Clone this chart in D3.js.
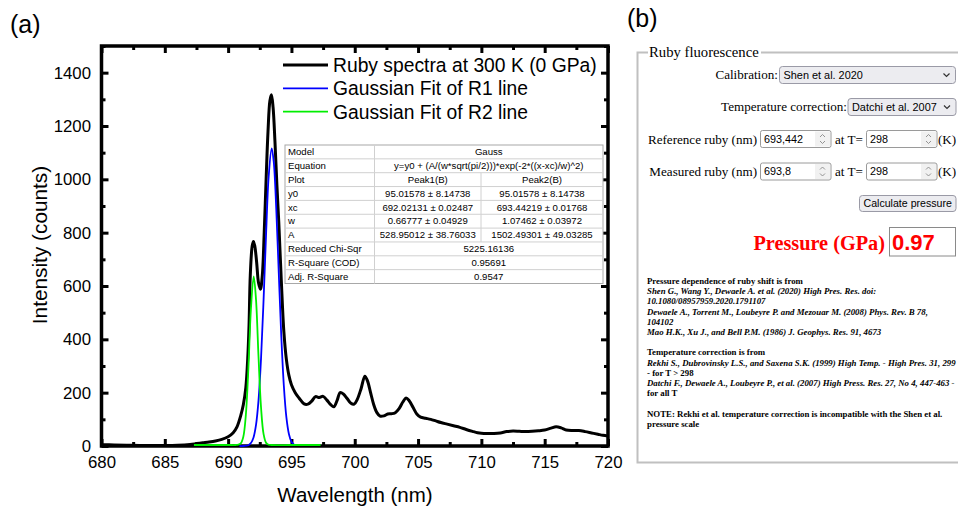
<!DOCTYPE html>
<html><head><meta charset="utf-8">
<script src="https://cdn.jsdelivr.net/npm/d3@7"></script>
<style>body{margin:0;background:#fff}svg{display:block}</style>
</head><body>
<svg id="c" width="958" height="508"></svg>
<script>
// ---------- DATA ----------
const spectrumWavelength = [680,681,682,683,684,685,686,687,687.5,688,688.5,689,689.5,690,690.4,690.7,691.0,691.2,691.4,691.55,691.65,691.75,691.9,692.0,692.1,692.25,692.4,692.55,692.7,692.85,693.0,693.15,693.3,693.42,693.55,693.7,693.85,694.0,694.2,694.4,694.6,694.8,695.0,695.3,695.6,696.0,696.3,696.6,696.9,697.2,697.5,697.8,698.1,698.35,698.6,698.85,699.1,699.4,699.7,699.95,700.2,700.5,700.8,701.0,701.25,701.5,701.75,702.0,702.3,702.6,702.9,703.2,703.5,703.8,704.05,704.3,704.6,704.9,705.2,705.6,706.0,706.4,706.8,707.3,707.8,708.3,708.8,709.3,709.7,710.0,710.5,711.0,711.5,712.0,712.5,713.0,713.5,714.0,714.5,715.0,715.5,715.9,716.3,716.7,717.2,717.7,718.2,718.7,719.2,719.6,720];
const spectrumIntensity = [5,4,3,2,2,2,3,6,9,12,15,19,25,35,50,72,115,155,220,330,450,640,750,767,752,690,612,588,640,800,1000,1180,1295,1317,1270,1140,980,840,620,430,325,265,230,200,180,158,157,168,185,182,186,172,155,147,170,200,195,178,160,157,175,215,262,245,200,155,125,112,113,120,121,125,140,165,180,170,145,120,108,104,100,94,88,82,76,70,62,55,50,48,47,47,49,54,56,55,54,55,57,60,67,72,68,60,58,58,54,49,44,40,37];

const r1Wavelength = [690.9,691.2,691.4,691.6,691.8,692.0,692.2,692.4,692.6,692.8,693.0,693.2,693.44,693.6,693.8,694.0,694.2,694.4,694.6,694.8,695.0,695.2,695.3];
const r1Intensity  = [0,0,1,3,11,31,78,171,329,549,798,1009,1116,1067,891,648,410,226,108,45,16,5,2];

const r2Wavelength = [687.3,688.5,690.0,690.6,690.8,691.0,691.2,691.4,691.6,691.8,692.02,692.2,692.4,692.6,692.8,693.0,693.2,693.4,695.0,697.3];
const r2Intensity  = [0,0,0,0,1,6,31,113,287,509,632,547,331,140,41,8,1,0,0,0];

const xTicks = [680,685,690,695,700,705,710,715,720];
const xMinor = [682.5,687.5,692.5,697.5,702.5,707.5,712.5,717.5];
const yTicks = [0,200,400,600,800,1000,1200,1400];
const yMinor = [100,300,500,700,900,1100,1300,1500];

const legendLabels = ["Ruby spectra at 300 K (0 GPa)","Gaussian Fit of R1 line","Gaussian Fit of R2 line"];
const legendColors = ["#000000","#0000ff","#00ee00"];

const tableRows = [
  ["Model","Gauss"],
  ["Equation","y=y0 + (A/(w*sqrt(pi/2)))*exp(-2*((x-xc)/w)^2)"],
  ["Plot","Peak1(B)","Peak2(B)"],
  ["y0","95.01578 ± 8.14738","95.01578 ± 8.14738"],
  ["xc","692.02131 ± 0.02487","693.44219 ± 0.01768"],
  ["w","0.66777 ± 0.04929","1.07462 ± 0.03972"],
  ["A","528.95012 ± 38.76033","1502.49301 ± 49.03285"],
  ["Reduced Chi-Sqr","5225.16136"],
  ["R-Square (COD)","0.95691"],
  ["Adj. R-Square","0.9547"]
];

const noteLines = [
  [["Pressure dependence of ruby shift is from",false]],
  [["Shen G., Wang Y., Dewaele A. et al. (2020) High Pres. Res. doi:",true]],
  [["10.1080/08957959.2020.1791107",true]],
  [["Dewaele A., Torrent M., Loubeyre P. and Mezouar M. (2008) Phys. Rev. B 78,",true]],
  [["104102",true]],
  [["Mao H.K., Xu J., and Bell P.M. (1986) J. Geophys. Res. 91, 4673",true]],
  null,
  [["Temperature correction is from",false]],
  [["Rekhi S., Dubrovinsky L.S., and Saxena S.K. (1999) High Temp. - High Pres. 31, 299",true]],
  [["- for T > 298",false]],
  [["Datchi F., Dewaele A., Loubeyre P., et al. (2007) High Press. Res. 27, No 4, 447-463 -",true]],
  [["for all T",false]],
  null,
  [["NOTE: Rekhi et al. temperature correction is incompatible with the Shen et al.",false]],
  [["pressure scale",false]]
];

// ---------- CHART (a) ----------
const svg = d3.select("#c");
const SANS = "'Liberation Sans', Arial, sans-serif";
const SERIF = "'Liberation Serif', 'Times New Roman', serif";
const UI = "'Liberation Sans', Arial, sans-serif";

const L = 101.5, R = 608, T = 46, B = 446;
const x = d3.scaleLinear().domain([680,720]).range([L,R]);
const y = d3.scaleLinear().domain([0,1500]).range([B,T]);

svg.append("text").attr("x",10).attr("y",33).attr("font-family",SANS).attr("font-size",25).text("(a)");
svg.append("text").attr("x",627).attr("y",27).attr("font-family",SANS).attr("font-size",25).text("(b)");

function styleAxis(sel){
  sel.select(".domain").remove();
  sel.selectAll(".tick line").attr("stroke","#000").attr("stroke-width",3);
  sel.selectAll(".tick text").attr("font-family",SANS).attr("font-size",16.8).attr("fill","#000");
}
// bottom
svg.append("g").attr("transform",`translate(0,${B})`)
  .call(d3.axisBottom(x).tickValues(xTicks).tickSizeInner(-7).tickSizeOuter(0).tickPadding(10).tickFormat(d3.format("d"))).call(styleAxis);
svg.append("g").attr("transform",`translate(0,${B})`)
  .call(d3.axisBottom(x).tickValues(xMinor).tickSizeInner(-4).tickSizeOuter(0).tickFormat("")).call(styleAxis);
// top
svg.append("g").attr("transform",`translate(0,${T})`)
  .call(d3.axisTop(x).tickValues(xTicks).tickSizeInner(-7).tickSizeOuter(0).tickFormat("")).call(styleAxis);
svg.append("g").attr("transform",`translate(0,${T})`)
  .call(d3.axisTop(x).tickValues(xMinor).tickSizeInner(-4).tickSizeOuter(0).tickFormat("")).call(styleAxis);
// left
svg.append("g").attr("transform",`translate(${L},0)`)
  .call(d3.axisLeft(y).tickValues(yTicks).tickSizeInner(-7).tickSizeOuter(0).tickPadding(10.5).tickFormat(d3.format("d"))).call(styleAxis);
svg.append("g").attr("transform",`translate(${L},0)`)
  .call(d3.axisLeft(y).tickValues(yMinor).tickSizeInner(-4).tickSizeOuter(0).tickFormat("")).call(styleAxis);
// right
svg.append("g").attr("transform",`translate(${R},0)`)
  .call(d3.axisRight(y).tickValues(yTicks).tickSizeInner(-7).tickSizeOuter(0).tickFormat("")).call(styleAxis);
svg.append("g").attr("transform",`translate(${R},0)`)
  .call(d3.axisRight(y).tickValues(yMinor).tickSizeInner(-4).tickSizeOuter(0).tickFormat("")).call(styleAxis);

svg.append("rect").attr("x",L).attr("y",T).attr("width",R-L).attr("height",B-T)
  .attr("fill","none").attr("stroke","#000").attr("stroke-width",3.5);

const line = d3.line().x(d=>x(d[0])).y(d=>y(d[1])).curve(d3.curveCatmullRom.alpha(0.5));
const g = svg.append("g");
g.append("path").datum(d3.zip(spectrumWavelength,spectrumIntensity)).attr("d",line)
  .attr("fill","none").attr("stroke","#000").attr("stroke-width",3).attr("stroke-linejoin","round");
g.append("path").datum(d3.zip(r1Wavelength,r1Intensity)).attr("d",line)
  .attr("fill","none").attr("stroke",legendColors[1]).attr("stroke-width",1.8);
g.append("path").datum(d3.zip(r2Wavelength,r2Intensity)).attr("d",line)
  .attr("fill","none").attr("stroke",legendColors[2]).attr("stroke-width",1.8)
  .attr("transform","translate(0,-1)");

svg.append("text").attr("x",355).attr("y",502).attr("text-anchor","middle")
  .attr("font-family",SANS).attr("font-size",20.5).text("Wavelength (nm)");
svg.append("text").attr("transform","translate(47,245) rotate(-90)").attr("text-anchor","middle")
  .attr("font-family",SANS).attr("font-size",20.8).text("Intensity (counts)");

// legend
const lg = svg.append("g");
legendLabels.forEach((lab,i)=>{
  const ly = 65 + i*23.3;
  lg.append("line").attr("x1",283).attr("x2",328).attr("y1",ly).attr("y2",ly)
    .attr("stroke",legendColors[i]).attr("stroke-width",i===0?3:1.8);
  lg.append("text").attr("x",333).attr("y",ly).attr("dy","0.36em")
    .attr("font-family",SANS).attr("font-size",19.3).text(lab);
});

// table
const cols = [285,374.5,481,603];
const tTop = 145, rowH = 13.85;
const tb = svg.append("g").attr("font-family",SANS).attr("font-size",9.6);
tb.append("rect").attr("x",cols[0]).attr("y",tTop).attr("width",cols[3]-cols[0]).attr("height",rowH*tableRows.length)
  .attr("fill","#fff").attr("stroke","#a8a8a8").attr("stroke-width",1);
tableRows.forEach((r,i)=>{
  const ty = tTop + i*rowH;
  if(i>0) tb.append("line").attr("x1",cols[0]).attr("x2",cols[3]).attr("y1",ty).attr("y2",ty).attr("stroke","#d0d0d0");
  tb.append("line").attr("x1",cols[1]).attr("x2",cols[1]).attr("y1",ty).attr("y2",ty+rowH).attr("stroke","#d0d0d0");
  tb.append("text").attr("x",cols[0]+3).attr("y",ty+10.2).text(r[0]);
  if(r.length===2){
    tb.append("text").attr("x",(cols[1]+cols[3])/2).attr("y",ty+10.2).attr("text-anchor","middle").text(r[1]);
  } else {
    tb.append("line").attr("x1",cols[2]).attr("x2",cols[2]).attr("y1",ty).attr("y2",ty+rowH).attr("stroke","#d0d0d0");
    tb.append("text").attr("x",(cols[1]+cols[2])/2).attr("y",ty+10.2).attr("text-anchor","middle").text(r[1]);
    tb.append("text").attr("x",(cols[2]+cols[3])/2).attr("y",ty+10.2).attr("text-anchor","middle").text(r[2]);
  }
});

// ---------- PANEL (b) ----------
const pb = svg.append("g");
const fsColor = "#c0c0c0";
pb.append("path").attr("d","M648,52.5 H637.5 V462.5 H958 M761,52.5 H958")
  .attr("fill","none").attr("stroke",fsColor).attr("stroke-width",2);
pb.append("text").attr("x",649).attr("y",57).attr("font-family",SERIF).attr("font-size",14.7).text("Ruby fluorescence");

const LF = 13.1;
function label(txt,xr,yb){
  pb.append("text").attr("x",xr).attr("y",yb).attr("text-anchor","end").attr("font-family",SERIF).attr("font-size",LF).text(txt);
}
function chevronDown(cx,cy,s){
  pb.append("path").attr("d",`M${cx-s},${cy-s/2} L${cx},${cy+s/2} L${cx+s},${cy-s/2}`)
    .attr("fill","none").attr("stroke","#333").attr("stroke-width",1.2);
}
function select(x0,y0,w,h,txt){
  pb.append("rect").attr("x",x0).attr("y",y0).attr("width",w).attr("height",h).attr("rx",3)
    .attr("fill","#ececf0").attr("stroke","#9a9aa6").attr("stroke-width",1);
  pb.append("text").attr("x",x0+4).attr("y",y0+h/2).attr("dy","0.36em").attr("font-family",UI).attr("font-size",10.9).text(txt);
  chevronDown(x0+w-9,y0+h/2,3);
}
function input(x0,y0,w,h,txt){
  pb.append("rect").attr("x",x0).attr("y",y0).attr("width",w).attr("height",h).attr("rx",2)
    .attr("fill","#fff").attr("stroke","#9a9a9a").attr("stroke-width",1);
  pb.append("rect").attr("x",x0+w-16).attr("y",y0+1).attr("width",15).attr("height",h-2)
    .attr("fill","#f1f1f1");
  const cx = x0+w-8.5, cy=y0+h/2;
  pb.append("path").attr("d",`M${cx-2.5},${cy-2} L${cx},${cy-4.5} L${cx+2.5},${cy-2} M${cx-2.5},${cy+2} L${cx},${cy+4.5} L${cx+2.5},${cy+2}`)
    .attr("fill","none").attr("stroke","#888").attr("stroke-width",0.9);
  pb.append("text").attr("x",x0+3.5).attr("y",y0+h/2).attr("dy","0.36em").attr("font-family",UI).attr("font-size",10.8).text(txt);
}
label("Calibration:",778,78.5);
select(779.5,66.5,176,17,"Shen et al. 2020");
label("Temperature correction:",847,111);
select(848,98.5,108,17,"Datchi et al. 2007");

label("Reference ruby (nm)",757,143.5);
input(760.5,130.5,70.5,17,"693,442");
pb.append("text").attr("x",835).attr("y",143.5).attr("font-family",SERIF).attr("font-size",LF).text("at T=");
input(866.5,130.5,70.5,17,"298");
pb.append("text").attr("x",938).attr("y",143.5).attr("font-family",SERIF).attr("font-size",LF).text("(K)");

label("Measured ruby (nm)",757,175.5);
input(760.5,163,70.5,17,"693,8");
pb.append("text").attr("x",835).attr("y",175.5).attr("font-family",SERIF).attr("font-size",LF).text("at T=");
input(866.5,163,70.5,17,"298");
pb.append("text").attr("x",938).attr("y",175.5).attr("font-family",SERIF).attr("font-size",LF).text("(K)");

pb.append("rect").attr("x",859.5).attr("y",195.5).attr("width",96.5).attr("height",16).attr("rx",3)
  .attr("fill","#ececf0").attr("stroke","#9a9aa6");
pb.append("text").attr("x",907.7).attr("y",203.5).attr("dy","0.36em").attr("text-anchor","middle")
  .attr("font-family",UI).attr("font-size",10.6).text("Calculate pressure");

pb.append("text").attr("x",885).attr("y",250).attr("text-anchor","end").attr("font-family",SERIF)
  .attr("font-weight","bold").attr("font-size",20.3).attr("fill","#ff0000").text("Pressure (GPa)");
pb.append("rect").attr("x",889.5).attr("y",227.5).attr("width",66).attr("height",28.5)
  .attr("fill","#fff").attr("stroke","#8a8a8a");
pb.append("text").attr("x",892).attr("y",250).attr("font-family",SANS).attr("font-weight","bold")
  .attr("font-size",22).attr("fill","#ff0000").text("0.97");

const notes = pb.append("g").attr("font-family",SERIF).attr("font-weight","bold").attr("font-size",8.8);
noteLines.forEach((ln,i)=>{
  if(!ln) return;
  const t = notes.append("text").attr("x",647).attr("y",284+i*10.2);
  ln.forEach(seg=>t.append("tspan").attr("font-style",seg[1]?"italic":"normal").text(seg[0]));
});
</script>
</body></html>
